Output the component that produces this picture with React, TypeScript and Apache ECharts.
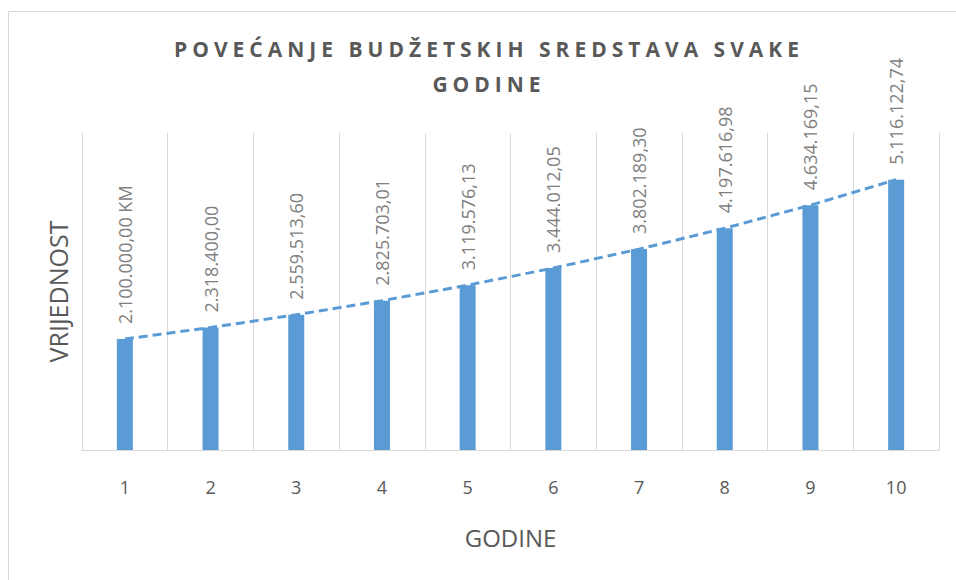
import React, { useEffect, useRef } from 'react';
import * as echarts from 'echarts';

const categories = ['1', '2', '3', '4', '5', '6', '7', '8', '9', '10'];
const values = [2100000, 2318400, 2559513.6, 2825703.01, 3119576.13, 3444012.05, 3802189.3, 4197616.98, 4634169.15, 5116122.74];
const titleLines = ['POVEĆANJE BUDŽETSKIH SREDSTAVA SVAKE', 'GODINE'];
const xName = 'GODINE';
const yName = 'VRIJEDNOST';
const unit = 'KM';
const yMin = 0;
const yMax = 6000000;

function fmt(v: number): string {
  const [i, d] = v.toFixed(2).split('.');
  return i.replace(/\B(?=(\d{3})+(?!\d))/g, '.') + ',' + d;
}

export default function App() {
  const ref = useRef<HTMLDivElement>(null);
  useEffect(() => {
    const el = ref.current!;
    const chart = echarts.init(el, undefined, { renderer: 'svg' });
    const font = 'Open Sans';
    chart.setOption({
      animation: false,
      backgroundColor: '#ffffff',
      textStyle: { fontFamily: font },
      title: {
        text: titleLines.join('\n'),
        left: 489,
        top: 31,
        padding: 0,
        textAlign: 'center',
        textStyle: { fontFamily: font, fontWeight: 'bold', fontSize: 21, color: '#595959', lineHeight: 35 },
      },
      graphic: [
        {
          type: 'rect',
          silent: true,
          shape: { x: 8.5, y: 11.5, width: 1000, height: 1000 },
          style: { fill: 'none', stroke: '#d9d9d9', lineWidth: 1 },
        },
      ],
      grid: { left: 82, right: 17, top: 133, bottom: 130 },
      xAxis: {
        type: 'category',
        data: categories,
        axisLine: { lineStyle: { color: '#d9d9d9', width: 1 } },
        axisTick: { show: false },
        axisLabel: { fontSize: 18, color: '#595959', margin: 28, fontFamily: font },
        splitLine: { show: true, lineStyle: { color: '#d9d9d9', width: 1 } },
        name: xName,
        nameLocation: 'middle',
        nameGap: 75,
        nameTextStyle: { fontSize: 24, color: '#595959', fontFamily: font },
      },
      yAxis: {
        type: 'value',
        min: yMin,
        max: yMax,
        axisLabel: { show: false },
        axisLine: { show: false },
        axisTick: { show: false },
        splitLine: { show: false },
        name: yName,
        nameLocation: 'middle',
        nameGap: 12,
        nameTextStyle: { fontSize: 25, color: '#595959', fontFamily: font },
      },
      series: [
        {
          type: 'bar',
          data: values,
          barWidth: 16,
          itemStyle: { color: '#5B9BD5' },
          label: {
            show: true,
            position: 'top',
            rotate: 90,
            align: 'left',
            verticalAlign: 'middle',
            distance: 15,
            fontSize: 18,
            color: '#808080',
            fontFamily: font,
            formatter: (p: any) => (p.dataIndex === 0 ? fmt(p.value) + ' ' + unit : fmt(p.value)),
          },
        },
        {
          type: 'line',
          data: values,
          symbol: 'none',
          z: 3,
          lineStyle: { color: '#5B9BD5', width: 3, type: [9, 5] },
        },
      ],
    });
    el.querySelectorAll('text').forEach((t) => {
      const txt = (t.textContent || '').trim();
      const w = parseInt(getComputedStyle(t).fontWeight || '400', 10);
      if (titleLines.includes(txt) && w >= 600) {
        (t as SVGTextElement).style.letterSpacing = '5px';
      }
    });
    return () => chart.dispose();
  }, []);
  return (
    <div
      ref={ref}
      style={{ position: 'fixed', left: 0, top: 0, width: 956, height: 580, background: '#fff' }}
    />
  );
}
